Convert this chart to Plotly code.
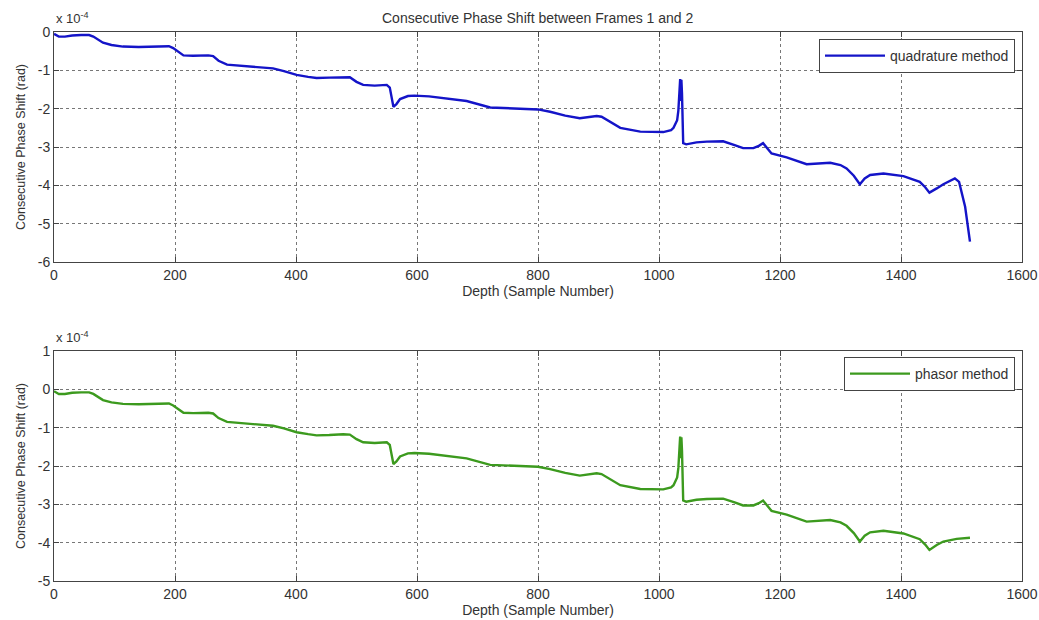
import plotly.graph_objects as go

# Phase shift (in units of 1e-4 rad) versus depth sample number.
# Both estimators agree over most of the record; they differ only at the tail.
common_depth = [0, 8, 18, 30, 45, 58, 65, 72, 81, 95, 114, 140, 170, 190, 197, 205,
                214, 230, 255, 263, 272, 286, 300, 330, 362, 380, 401, 420, 434, 455,
                478, 489, 500, 511, 530, 550, 555, 558, 561, 566, 572, 585, 596, 620,
                649, 682, 721, 760, 800, 820, 845, 869, 897, 905, 913, 936, 969, 1007,
                1020, 1024, 1030, 1032, 1034, 1035, 1036, 1037, 1038, 1040, 1045, 1062,
                1079, 1106, 1125, 1139, 1156, 1165, 1172, 1186, 1211, 1244, 1283, 1300,
                1310, 1322, 1332, 1340, 1349, 1371, 1404, 1431, 1440, 1447]
common_shift = [-0.05, -0.12, -0.12, -0.09, -0.08, -0.08, -0.12, -0.20, -0.28, -0.34,
                -0.38, -0.39, -0.38, -0.37, -0.42, -0.52, -0.61, -0.62, -0.61, -0.63,
                -0.75, -0.85, -0.87, -0.90, -0.95, -1.02, -1.12, -1.17, -1.20, -1.19,
                -1.17, -1.18, -1.30, -1.38, -1.40, -1.38, -1.45, -1.70, -1.95, -1.88,
                -1.75, -1.67, -1.66, -1.68, -1.73, -1.80, -1.97, -1.99, -2.02, -2.08,
                -2.18, -2.25, -2.19, -2.21, -2.28, -2.50, -2.60, -2.61, -2.56, -2.50,
                -2.30, -2.05, -1.50, -1.23, -1.80, -1.25, -1.60, -2.90, -2.93, -2.88,
                -2.86, -2.85, -2.95, -3.03, -3.03, -2.97, -2.90, -3.17, -3.27, -3.45,
                -3.41, -3.47, -3.56, -3.75, -3.97, -3.82, -3.73, -3.69, -3.76, -3.91,
                -4.05, -4.19]

quadrature_tail_depth = [1459, 1470, 1489, 1496, 1506, 1514]
quadrature_tail_shift = [-4.08, -3.97, -3.82, -3.91, -4.56, -5.47]

phasor_tail_depth = [1459, 1470, 1492, 1503, 1514]
phasor_tail_shift = [-4.06, -3.97, -3.90, -3.88, -3.87]

quadrature_depth = common_depth + quadrature_tail_depth
quadrature_shift = common_shift + quadrature_tail_shift
phasor_depth = common_depth + phasor_tail_depth
phasor_shift = common_shift + phasor_tail_shift

x_ticks = [0, 200, 400, 600, 800, 1000, 1200, 1400, 1600]
top_y_ticks = [-6, -5, -4, -3, -2, -1, 0]
bottom_y_ticks = [-5, -4, -3, -2, -1, 0, 1]

W, H = 1039, 620
FONT = "Liberation Sans, Arial, sans-serif"
TXT = "#333333"
FS = 14

fig = go.Figure()
fig.add_trace(go.Scatter(x=quadrature_depth, y=quadrature_shift, mode="lines",
                         name="quadrature method", line=dict(color="#1414c8", width=2.4),
                         xaxis="x", yaxis="y", legend="legend"))
fig.add_trace(go.Scatter(x=phasor_depth, y=phasor_shift, mode="lines",
                         name="phasor method", line=dict(color="#3c9a1e", width=2.4),
                         xaxis="x2", yaxis="y2", legend="legend2"))

x0, x1 = 54 / W, 1022 / W
top_dom = [1 - 262 / H, 1 - 32 / H]
bot_dom = [1 - 581 / H, 1 - 351 / H]

def xaxis(domain_anchor):
    return dict(domain=[x0, x1], anchor=domain_anchor, range=[0, 1600],
                tickvals=x_ticks, ticktext=[str(v) for v in x_ticks],
                ticks="inside", ticklen=5, tickcolor="#444", mirror="ticks",
                showline=True, linecolor="#444", linewidth=1,
                showgrid=True, gridcolor="#777", griddash="dot", gridwidth=1,
                zeroline=False, tickfont=dict(family=FONT, size=FS, color=TXT),
                title=dict(text="Depth (Sample Number)", standoff=2,
                           font=dict(family=FONT, size=FS, color=TXT)),
                automargin=False)

def yaxis(domain, ticks, anchor):
    return dict(domain=domain, anchor=anchor, range=[ticks[0], ticks[-1]],
                tickvals=ticks, ticktext=[str(v) for v in ticks],
                ticks="inside", ticklen=5, tickcolor="#444", mirror="ticks",
                showline=True, linecolor="#444", linewidth=1,
                showgrid=True, gridcolor="#777", griddash="dot", gridwidth=1,
                zeroline=False, tickfont=dict(family=FONT, size=FS, color=TXT),
                title=dict(text="Consecutive Phase Shift (rad)", standoff=9,
                           font=dict(family=FONT, size=12.5, color=TXT)),
                automargin=False)

legend_common = dict(xanchor="right", yanchor="top", bgcolor="white",
                     bordercolor="#444", borderwidth=1,
                     font=dict(family=FONT, size=FS, color=TXT),
                     itemwidth=60, tracegroupgap=0)

fig.update_layout(
    width=W, height=H, margin=dict(l=0, r=0, t=0, b=0),
    paper_bgcolor="white", plot_bgcolor="white",
    xaxis=xaxis("y"), yaxis=yaxis(top_dom, top_y_ticks, "x"),
    xaxis2=xaxis("y2"), yaxis2=yaxis(bot_dom, bottom_y_ticks, "x2"),
    legend=dict(x=1015 / W, y=1 - 39 / H, **legend_common),
    legend2=dict(x=1015 / W, y=1 - 357 / H, **legend_common),
    showlegend=True,
    annotations=[
        dict(text="Consecutive Phase Shift between Frames 1 and 2", x=(x0 + x1) / 2,
             y=1 - 18 / H, xref="paper", yref="paper", yanchor="middle",
             showarrow=False, font=dict(family=FONT, size=FS, color=TXT)),
        dict(text="x 10<sup>-4</sup>", x=54 / W, y=1 - 28 / H, xref="paper", yref="paper",
             xanchor="left", yanchor="bottom", showarrow=False,
             font=dict(family=FONT, size=13, color=TXT)),
        dict(text="x 10<sup>-4</sup>", x=54 / W, y=1 - 347 / H, xref="paper", yref="paper",
             xanchor="left", yanchor="bottom", showarrow=False,
             font=dict(family=FONT, size=13, color=TXT)),
    ],
)

fig.write_html("out.html")
